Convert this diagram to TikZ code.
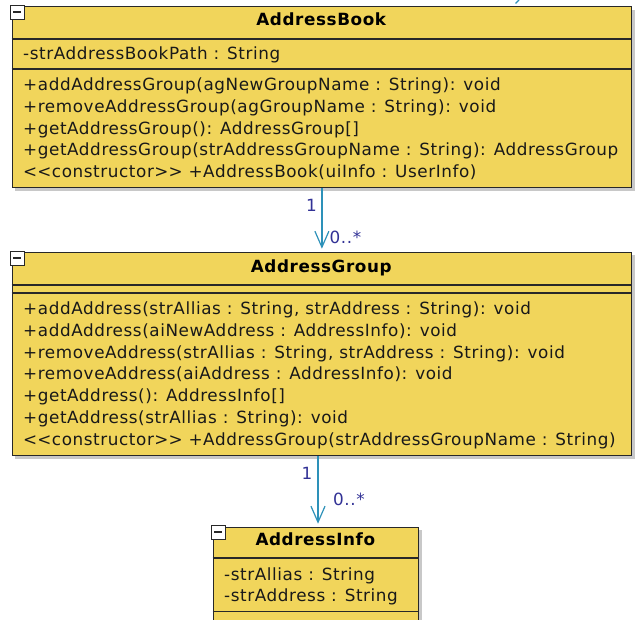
\documentclass[tikz,border=0pt]{standalone}
\usepackage{fontspec}
\setmainfont{DejaVu Sans}[LetterSpace=3.5]
\usetikzlibrary{arrows.meta,shadows}
\definecolor{umlfill}{RGB}{241,213,91}
\definecolor{umlline}{RGB}{40,40,40}
\definecolor{assoccol}{RGB}{45,145,185}
\definecolor{multcol}{RGB}{50,50,150}
\begin{document}
\begin{tikzpicture}[x=1pt,y=-1pt,
  umlbox/.style={draw=umlline, line width=1.3pt, fill=umlfill, inner sep=0pt, anchor=north west,
    drop shadow={shadow xshift=3pt, shadow yshift=-3pt, fill=black!30, opacity=0.7}},
  sepline/.style={draw=umlline, line width=1.3pt},
  minusbox/.style={draw=umlline, line width=1pt, fill=white, minimum size=14pt, inner sep=0pt,
    path picture={\draw[line width=1.3pt] ([xshift=3pt]path picture bounding box.west) -- ([xshift=-3pt]path picture bounding box.east);}},
  txt/.style={anchor=base west, inner sep=0pt, font=\fontsize{16.8}{19}\selectfont, text=black!90},
  ttl/.style={anchor=base, inner sep=0pt, font=\fontsize{16.8}{19}\selectfont\bfseries, text=black},
  mult/.style={inner sep=0pt, font=\fontsize{16.8}{19}\selectfont, text=multcol},
  assoc/.style={draw=assoccol, line width=1.2pt, shorten >=3pt, -{Straight Barb[length=16pt,width=14pt,line width=1.2pt]}}
]
\useasboundingbox (0,0) rectangle (639,619);
\begin{scope}
\clip (0,0) rectangle (639,619);
\fill[white] (0,0) rectangle (639,619);

% fragment of a connector at top edge
\draw[draw=assoccol, line width=1.2pt] (519,0) -- (515.5,3.5);

% ---------------- AddressBook ----------------
\node[umlbox, minimum width=619.5pt, minimum height=181pt] (book) at (11.5,6) {};
\draw[sepline] (book.west |- 0,39) -- (book.east |- 0,39);
\draw[sepline] (book.west |- 0,69) -- (book.east |- 0,69);
\node[minusbox] (bookmin) at (17,12) {};
\node[ttl] (bookt) at (321.25,25.75) {AddressBook};
\node[txt] (ba1) at (23,59.25) {-strAddressBookPath : String};
\node[txt] (bm1) at (23,90.75) {+addAddressGroup(agNewGroupName : String): void};
\node[txt] (bm2) at (23,112.45) {+removeAddressGroup(agGroupName : String): void};
\node[txt] (bm3) at (23,134.15) {+getAddressGroup(): AddressGroup[]};
\node[txt] (bm4) at (23,155.85) {+getAddressGroup(strAddressGroupName : String): AddressGroup};
\node[txt] (bm5) at (23,177.55) {<\kern0pt<constructor>\kern0pt> +AddressBook(uiInfo : UserInfo)};

% ---------------- AddressGroup ----------------
\node[umlbox, minimum width=619.5pt, minimum height=203.3pt] (group) at (11.5,251.7) {};
\draw[sepline] (group.west |- 0,285) -- (group.east |- 0,285);
\draw[sepline] (group.west |- 0,293) -- (group.east |- 0,293);
\node[minusbox] (groupmin) at (17,258) {};
\node[ttl] (groupt) at (321.25,272.45) {AddressGroup};
\node[txt] (gm1) at (23,314.25) {+addAddress(strAllias : String, strAddress : String): void};
\node[txt] (gm2) at (23,336.15) {+addAddress(aiNewAddress : AddressInfo): void};
\node[txt] (gm3) at (23,358.05) {+removeAddress(strAllias : String, strAddress : String): void};
\node[txt] (gm4) at (23,379.95) {+removeAddress(aiAddress : AddressInfo): void};
\node[txt] (gm5) at (23,401.85) {+getAddress(): AddressInfo[]};
\node[txt] (gm6) at (23,423.75) {+getAddress(strAllias : String): void};
\node[txt] (gm7) at (23,445.65) {<\kern0pt<constructor>\kern0pt> +AddressGroup(strAddressGroupName : String)};

% ---------------- AddressInfo ----------------
\node[umlbox, minimum width=205.3pt, minimum height=120pt] (info) at (212.7,526.7) {};
\draw[sepline] (info.west |- 0,558) -- (info.east |- 0,558);
\draw[sepline] (info.west |- 0,611.7) -- (info.east |- 0,611.7);
\node[minusbox] (infomin) at (218,532) {};
\node[ttl] (infot) at (315.35,545.75) {AddressInfo};
\node[txt] (ia1) at (224,580.75) {-strAllias : String};
\node[txt] (ia2) at (224,601.75) {-strAddress : String};

% ---------------- associations ----------------
\draw[assoc] (book.south) -- (group.north);
\node[mult, anchor=base east] (m1a) at (317,211.75) {1};
\node[mult, anchor=base west] (m1b) at (329.5,243.5) {0..*};

\coordinate (g2start) at ([xshift=2pt]info.north |- group.south);
\coordinate (g2end) at ([xshift=2pt]info.north);
\draw[assoc] (g2start) -- (g2end);
\node[mult, anchor=base east] (m2a) at (312.5,479.75) {1};
\node[mult, anchor=base west] (m2b) at (333,505) {0..*};
\end{scope}
\end{tikzpicture}
\end{document}
